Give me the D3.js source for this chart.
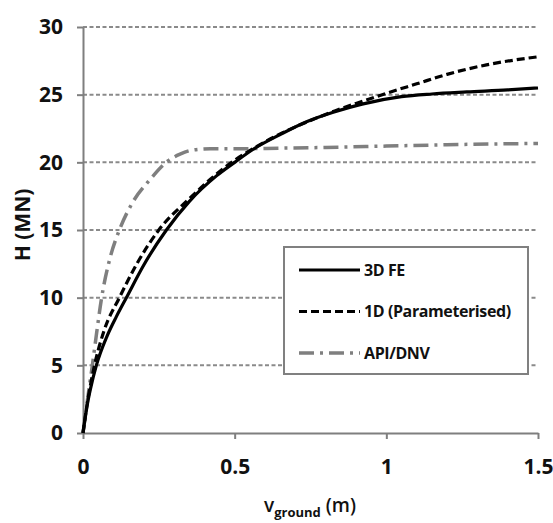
<!DOCTYPE html>
<html>
<head>
<meta charset="utf-8">
<script src="https://cdn.jsdelivr.net/npm/d3@7"></script>
<style>
  body { margin: 0; background: #fff; }
  text { font-family: "Open Sans", sans-serif; font-weight: 700; fill: #111; }
</style>
</head>
<body>
<svg id="chart"></svg>
<script>
// values
const feX = [0, 0.015, 0.025, 0.044, 0.08, 0.11, 0.143, 0.2, 0.275, 0.35, 0.44, 0.5, 0.56, 0.65, 0.737, 0.825, 0.92, 1.05, 1.15, 1.265, 1.4, 1.5];
const feY = [0, 2.2, 3.3, 5.0, 7.2, 8.6, 10.0, 12.4, 15.0, 17.1, 19.0, 20.0, 20.95, 22.05, 23.0, 23.7, 24.3, 24.85, 25.05, 25.2, 25.35, 25.5];

const paramX = [0, 0.012, 0.038, 0.07, 0.12, 0.18, 0.25, 0.35, 0.42, 0.49, 0.56, 0.65, 0.74, 0.83, 0.9, 1.0, 1.1, 1.2, 1.33, 1.5];
const paramY = [0, 1.9, 5.0, 7.6, 10.0, 12.6, 15.0, 17.3, 18.75, 20.0, 21.0, 22.1, 23.0, 23.8, 24.35, 25.1, 25.8, 26.5, 27.2, 27.8];

const apiX = [0, 0.012, 0.032, 0.045, 0.06, 0.09, 0.12, 0.16, 0.22, 0.28, 0.32, 0.36, 0.42, 0.5, 0.65, 0.8, 1.0, 1.2, 1.5];
const apiY = [0, 2.0, 5.2, 7.4, 9.8, 13.0, 15.0, 16.9, 18.7, 20.1, 20.6, 20.9, 21.0, 21.0, 21.05, 21.1, 21.2, 21.3, 21.4];

const seriesNames = ['3D FE', '1D (Parameterised)', 'API/DNV'];
const xTicks = [0, 0.5, 1, 1.5];
const yTicks = [0, 5, 10, 15, 20, 25, 30];

const margin = { top: 27, right: 15, bottom: 90, left: 83 };
const width = 553 - margin.left - margin.right;
const height = 523 - margin.top - margin.bottom;

const svg = d3.select('#chart')
  .attr('width', 553)
  .attr('height', 523);

const g = svg.append('g')
  .attr('transform', `translate(${margin.left},${margin.top})`);

const x = d3.scaleLinear().domain([0, 1.5]).range([0, width]);
const y = d3.scaleLinear().domain([0, 30]).range([height, 0]);

// dashed gridlines
g.selectAll('.grid')
  .data(yTicks.filter(d => d > 0))
  .join('line')
  .attr('class', 'grid')
  .attr('x1', 0)
  .attr('x2', width)
  .attr('y1', d => y(d))
  .attr('y2', d => y(d))
  .style('stroke', '#8a8a8a')
  .style('stroke-width', 2)
  .style('stroke-dasharray', '4,2.5');

// axes
const yAxis = d3.axisLeft(y).tickValues(yTicks).tickSize(6).tickSizeOuter(0).tickPadding(14);
const xAxis = d3.axisBottom(x).tickValues(xTicks).tickFormat(d3.format('')).tickSize(6).tickSizeOuter(0).tickPadding(20);

const yAxisG = g.append('g').call(yAxis);
const xAxisG = g.append('g').attr('transform', `translate(0,${height})`).call(xAxis);

[yAxisG, xAxisG].forEach(ax => {
  ax.select('.domain').style('stroke', '#7f7f7f').style('stroke-width', 2);
  ax.selectAll('.tick line').style('stroke', '#7f7f7f').style('stroke-width', 2);
  ax.selectAll('.tick text')
    .style('font-family', '"Open Sans", sans-serif')
    .style('font-weight', 700)
    .style('font-size', '21px')
    .style('fill', '#111');
});

// series
const toPoints = (xs, ys) => xs.map((v, i) => ({ x: v, y: ys[i] }));
const line = d3.line()
  .x(d => x(d.x))
  .y(d => y(d.y))
  .curve(d3.curveMonotoneX);

const series = [
  { name: seriesNames[0], pts: toPoints(feX, feY), color: '#000', w: 3.2, dash: null },
  { name: seriesNames[1], pts: toPoints(paramX, paramY), color: '#000', w: 3.2, dash: '8,4' },
  { name: seriesNames[2], pts: toPoints(apiX, apiY), color: '#7f7f7f', w: 3.5, dash: '15,6,3,6' }
];

// draw API first so the black curves sit on top
g.selectAll('.series')
  .data(series.slice().reverse())
  .join('path')
  .attr('class', 'series')
  .attr('d', d => line(d.pts))
  .style('fill', 'none')
  .style('stroke', d => d.color)
  .style('stroke-width', d => d.w)
  .style('stroke-dasharray', d => d.dash);

// legend
const legend = svg.append('g').attr('transform', 'translate(284,247)');
legend.append('rect')
  .attr('width', 244)
  .attr('height', 127)
  .style('fill', '#fff')
  .style('stroke', '#808080')
  .style('stroke-width', 2);

const rows = legend.selectAll('.row')
  .data(series)
  .join('g')
  .attr('class', 'row')
  .attr('transform', (d, i) => `translate(0,${23 + i * 41.5})`);

rows.append('line')
  .attr('x1', 15)
  .attr('x2', 76)
  .style('stroke', d => d.color)
  .style('stroke-width', d => d.w)
  .style('stroke-dasharray', d => d.dash);

rows.append('text')
  .attr('x', 80)
  .attr('dy', '0.35em')
  .style('font-size', '16px')
  .style('letter-spacing', '-0.4px')
  .text(d => d.name);

// axis titles
svg.append('text')
  .attr('transform', 'translate(30,225) rotate(-90)')
  .attr('text-anchor', 'middle')
  .style('font-size', '21px')
  .text('H (MN)');

const xt = svg.append('text')
  .attr('x', 310)
  .attr('y', 512)
  .attr('text-anchor', 'middle')
  .style('font-size', '19px')
  .style('font-weight', 600);
xt.append('tspan').text('v');
xt.append('tspan').attr('dy', 5).style('font-size', '13px').style('font-weight', 700).text('ground');
xt.append('tspan').attr('dy', -5).text(' (m)');
</script>
</body>
</html>
